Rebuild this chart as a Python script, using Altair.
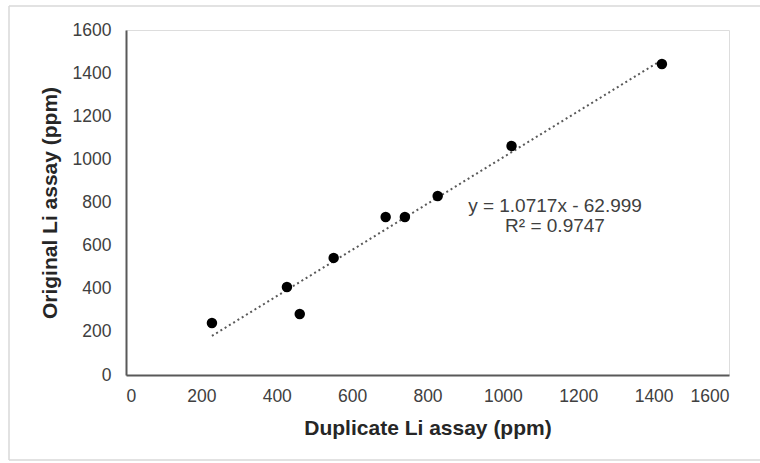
import altair as alt
import pandas as pd

duplicate = [228, 427, 461, 551, 689, 740, 827, 1023, 1422]
original = [241, 408, 283, 543, 733, 733, 830, 1062, 1442]
slope = 1.0717
intercept = -62.999
eq_line1 = "y = 1.0717x - 62.999"
eq_line2 = "R² = 0.9747"
ticks = [0, 200, 400, 600, 800, 1000, 1200, 1400, 1600]

pts = pd.DataFrame({"dup": duplicate, "orig": original})
xmin, xmax = min(duplicate), max(duplicate)
trend = pd.DataFrame({"dup": [xmin, xmax],
                      "orig": [slope * xmin + intercept, slope * xmax + intercept]})

FONT = "Liberation Sans"

xs = alt.Scale(domain=[0, 1600], nice=False)
ys = alt.Scale(domain=[0, 1600], nice=False)

xaxis = alt.Axis(values=ticks, format="d", grid=False, ticks=False, tickSize=0, labelPadding=12,
                 labelFontSize=17.5, labelColor="#404040", labelFont=FONT,
                 domainColor="#595959", domainWidth=2,
                 title="Duplicate Li assay (ppm)", titleFont=FONT, titleFontSize=21,
                 titleFontWeight="bold", titleColor="#262626",
                 titleY=53, titleBaseline="middle")
yaxis = alt.Axis(values=ticks, format="d", grid=False, ticks=False, tickSize=0, labelPadding=15,
                 labelFontSize=17.5, labelColor="#404040", labelFont=FONT,
                 domainColor="#595959", domainWidth=2,
                 title="Original Li assay (ppm)", titleFont=FONT, titleFontSize=21,
                 titleFontWeight="bold", titleColor="#262626",
                 titleX=-76, titleBaseline="middle")

one = pd.DataFrame({"a": [0]})
border = dict(color="#d9d9d9", strokeWidth=1.5)

top_rule = alt.Chart(one).mark_rule(**border).encode(
    x=alt.value(-117), x2=alt.value(660), y=alt.value(-24))
left_rule = alt.Chart(one).mark_rule(**border).encode(
    x=alt.value(-117), y=alt.value(-24), y2=alt.value(430))
bottom_rule = alt.Chart(one).mark_rule(**border).encode(
    x=alt.value(-117), x2=alt.value(660), y=alt.value(430))

line = alt.Chart(trend).mark_line(
    color="#595959", strokeDash=[2, 3], strokeWidth=2
).encode(x=alt.X("dup:Q", scale=xs, axis=xaxis), y=alt.Y("orig:Q", scale=ys, axis=yaxis))

points = alt.Chart(pts).mark_circle(size=110, color="#000000", opacity=1).encode(
    x=alt.X("dup:Q", scale=xs), y=alt.Y("orig:Q", scale=ys))

text1 = alt.Chart(one).mark_text(
    font=FONT, fontSize=19, color="#404040", align="center", baseline="middle"
).encode(text=alt.value(eq_line1), x=alt.value(429), y=alt.value(176))
text2 = alt.Chart(one).mark_text(
    font=FONT, fontSize=19, color="#404040", align="center", baseline="middle"
).encode(text=alt.value(eq_line2), x=alt.value(429), y=alt.value(196))

chart = alt.layer(top_rule, left_rule, bottom_rule, line, points, text1, text2).properties(
    width=603, height=345,
    padding={"left": 126, "top": 30, "right": 31, "bottom": 88},
    autosize="none",
).configure_view(stroke=None).configure(background="white")

chart.save("out.html", embed_options={"renderer": "svg", "actions": False})
